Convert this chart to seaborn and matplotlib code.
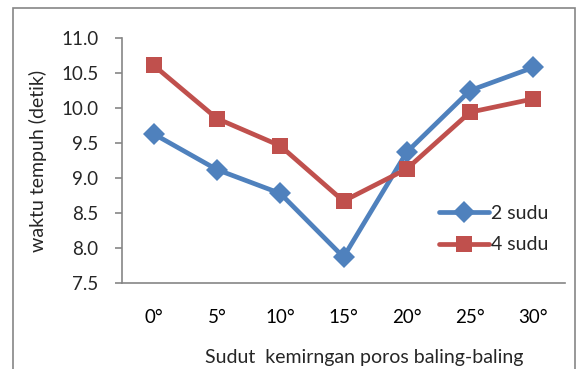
import pandas as pd
import seaborn as sns
import matplotlib.pyplot as plt
from matplotlib.patches import Rectangle

angles = ['0°', '5°', '10°', '15°', '20°', '25°', '30°']
sudu2 = [9.63, 9.12, 8.78, 7.87, 9.37, 10.25, 10.58]
sudu4 = [10.61, 9.85, 9.46, 8.67, 9.13, 9.94, 10.13]

df = pd.DataFrame({
    'pos': list(range(len(angles))) * 2,
    'waktu': sudu2 + sudu4,
    'seri': ['2 sudu'] * len(angles) + ['4 sudu'] * len(angles),
})

sns.set_style('white')
plt.rcParams['font.family'] = ['Lato', 'DejaVu Sans']

fig = plt.figure(figsize=(5.77, 3.69), dpi=100)
ax = fig.add_axes([122 / 577, 1 - 283 / 369, 443 / 577, 245 / 369])

sns.lineplot(data=df, x='pos', y='waktu', hue='seri', style='seri',
             palette={'2 sudu': '#4F81BD', '4 sudu': '#C0504D'},
             markers={'2 sudu': 'D', '4 sudu': 's'}, dashes=False,
             linewidth=3.4, markersize=11, markeredgewidth=0, ax=ax)

ax.set_xlim(-0.5, len(angles) - 0.5)
ax.set_ylim(7.5, 11.0)
ax.set_yticks([7.5 + 0.5 * i for i in range(8)])
ax.set_yticklabels(['{:.1f}'.format(7.5 + 0.5 * i) for i in range(8)])
ax.set_xticks(range(len(angles)))
ax.set_xticklabels(angles)
ax.set_xticks([i - 0.5 for i in range(len(angles) + 1)], minor=True)
ax.tick_params(axis='x', which='major', length=0, pad=19, labelsize=13.5, colors='black')
ax.tick_params(axis='x', which='minor', length=5, width=1.2, color='#868686', direction='out')
ax.tick_params(axis='y', length=5, width=1.2, color='#868686', direction='out', pad=12, labelsize=13.5, left=True)

for s in ['top', 'right']:
    ax.spines[s].set_visible(False)
for s in ['left', 'bottom']:
    ax.spines[s].set_color('#868686')
    ax.spines[s].set_linewidth(1.2)

ax.set_xlabel('Sudut  kemirngan poros baling-baling', fontsize=14)
ax.xaxis.set_label_coords(0.546, -0.27)
ax.set_ylabel('waktu tempuh (detik)', fontsize=14)
ax.yaxis.set_label_coords(-0.17, 0.5)

ax.legend(loc='center left', bbox_to_anchor=(0.675, 0.22), frameon=False,
          fontsize=14, handlelength=2.6, handletextpad=0.1, labelspacing=0.75)

fig.patches.append(Rectangle((13 / 577, -0.05), (575 - 13) / 577, 1.05 - 8 / 369,
                             transform=fig.transFigure, fill=False,
                             edgecolor='#868686', linewidth=1.2))

fig.savefig('out.png', dpi=100)
